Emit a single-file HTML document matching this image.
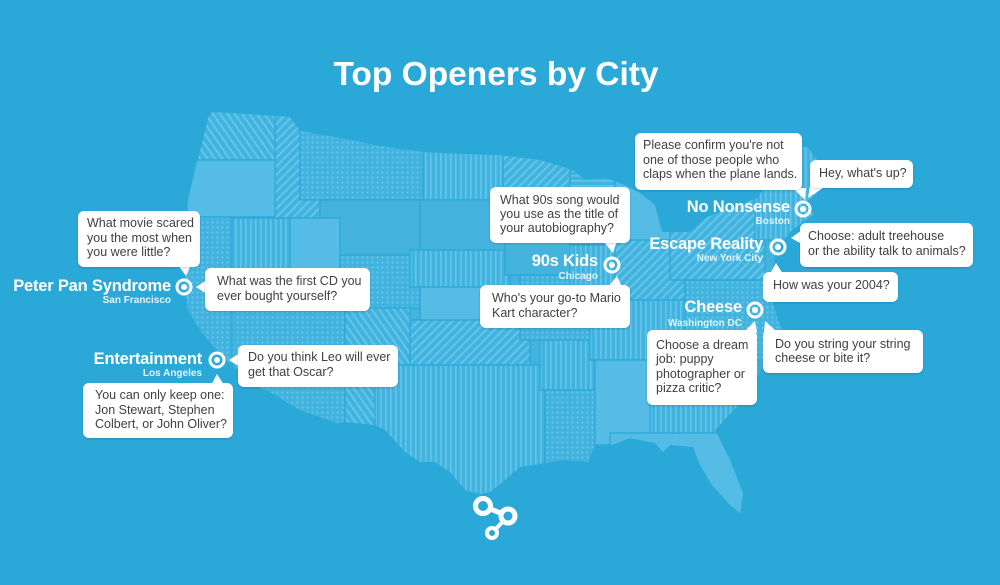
<!DOCTYPE html>
<html><head><meta charset="utf-8">
<style>
html,body{margin:0;padding:0;}
body{width:1000px;height:585px;overflow:hidden;background:#2aa9d9;position:relative;font-family:"Liberation Sans",Arial,sans-serif;}
svg.map{position:absolute;left:0;top:0;}
.title{position:absolute;left:0;width:992px;top:58px;text-align:center;color:#fff;font-weight:bold;font-size:33.5px;line-height:33.5px;white-space:nowrap;}
.b{position:absolute;background:#fff;border-radius:6px;box-shadow:0 1px 2px rgba(0,0,0,0.18);color:#404040;font-size:12.5px;line-height:14.5px;white-space:nowrap;box-sizing:border-box;}
.l{position:absolute;color:#fff;font-weight:bold;font-size:16.5px;line-height:16.5px;white-space:nowrap;text-align:right;letter-spacing:-0.2px;}
.s{position:absolute;color:#e3f4fb;font-weight:bold;font-size:10px;line-height:10px;white-space:nowrap;text-align:right;}
</style></head><body>
<svg class="map" width="1000" height="585" viewBox="0 0 1000 585">
<defs>
<clipPath id="us"><path d="M208,118 L212,112 L228,113 L260,115 L290,117 L300,131 L340,138 L380,146 L423,152 L460,154 L497,155 L540,160 L573,170 L585,180 L605,178 L622,184 L640,193 L655,205 L662,232 L690,232 L705,218 L725,210 L758,198 L772,172 L788,142 L808,148 L826,172 L816,194 L804,204 L814,214 L792,230 L780,244 L775,256 L772,274 L765,290 L772,300 L778,320 L785,335 L770,355 L758,375 L748,395 L715,430 L730,460 L743,493 L740,513 L730,505 L712,485 L700,465 L693,447 L670,445 L663,452 L655,443 L630,438 L612,445 L595,445 L588,462 L565,460 L545,463 L520,467 L505,480 L490,492 L480,494 L465,490 L450,472 L435,462 L420,462 L405,452 L385,430 L375,425 L345,422 L337,423 L300,410 L270,392 L255,385 L240,372 L228,362 L215,348 L200,330 L188,310 L185,290 L186,255 L187,225 L188,200 L195,170 L203,140 Z"/></clipPath>
<pattern id="vs" width="5" height="5" patternUnits="userSpaceOnUse"><rect width="5" height="5" fill="#42b3de"/><rect width="1.6" height="5" fill="#64c5ea"/></pattern>
<pattern id="ds" width="6" height="6" patternUnits="userSpaceOnUse" patternTransform="rotate(45)"><rect width="6" height="6" fill="#42b3de"/><rect width="2" height="6" fill="#64c5ea"/></pattern>
<pattern id="ds2" width="6" height="6" patternUnits="userSpaceOnUse" patternTransform="rotate(-35)"><rect width="6" height="6" fill="#42b3de"/><rect width="2" height="6" fill="#64c5ea"/></pattern>
<pattern id="hs" width="5" height="5" patternUnits="userSpaceOnUse"><rect width="5" height="5" fill="#42b3de"/><rect width="5" height="1.6" fill="#64c5ea"/></pattern>
<pattern id="dt" width="5" height="5" patternUnits="userSpaceOnUse"><rect width="5" height="5" fill="#42b3de"/><circle cx="2.5" cy="2.5" r="1.1" fill="#66c6eb"/></pattern>
</defs>
<g clip-path="url(#us)" stroke="#2aa9d9" stroke-width="1.3">
<rect x="150" y="100" width="700" height="430" fill="#44b4df" stroke="none"/>
<rect x="195" y="105" width="95" height="55" fill="url(#ds2)"/>
<rect x="180" y="160" width="100" height="57" fill="#55bce5"/>
<rect x="180" y="217" width="52" height="185" fill="url(#dt)"/>
<rect x="232" y="218" width="58" height="100" fill="url(#vs)"/>
<rect x="275" y="115" width="45" height="103" fill="url(#ds)"/>
<rect x="300" y="125" width="123" height="75" fill="url(#dt)"/>
<rect x="320" y="200" width="100" height="55" fill="#44b4df"/>
<rect x="290" y="218" width="50" height="88" fill="#55bce5"/>
<rect x="340" y="255" width="80" height="53" fill="url(#dt)"/>
<rect x="232" y="306" width="113" height="120" fill="url(#dt)"/>
<rect x="345" y="308" width="65" height="118" fill="url(#ds2)"/>
<rect x="423" y="145" width="80" height="55" fill="url(#vs)"/>
<rect x="420" y="200" width="85" height="50" fill="#44b4df"/>
<rect x="410" y="250" width="100" height="37" fill="url(#vs)"/>
<rect x="420" y="287" width="100" height="33" fill="#55bce5"/>
<rect x="410" y="320" width="120" height="45" fill="url(#ds)"/>
<rect x="375" y="365" width="170" height="135" fill="url(#vs)"/>
<rect x="503" y="150" width="67" height="80" fill="url(#ds)"/>
<rect x="505" y="230" width="65" height="45" fill="#44b4df"/>
<rect x="520" y="275" width="70" height="65" fill="url(#dt)"/>
<rect x="540" y="340" width="55" height="50" fill="url(#vs)"/>
<rect x="545" y="390" width="55" height="80" fill="url(#dt)"/>
<rect x="570" y="170" width="45" height="75" fill="url(#hs)"/>
<rect x="570" y="245" width="45" height="75" fill="url(#vs)"/>
<rect x="615" y="175" width="55" height="65" fill="#55bce5"/>
<rect x="615" y="240" width="70" height="60" fill="url(#ds)"/>
<rect x="590" y="300" width="110" height="60" fill="url(#vs)"/>
<rect x="595" y="360" width="55" height="85" fill="#55bce5"/>
<rect x="650" y="360" width="110" height="75" fill="url(#vs)"/>
<rect x="610" y="433" width="140" height="90" fill="#55bce5"/>
<rect x="670" y="195" width="95" height="85" fill="url(#ds)"/>
<rect x="755" y="135" width="80" height="105" fill="url(#vs)"/>
<rect x="685" y="280" width="105" height="80" fill="url(#dt)"/>
</g>
<!-- tails -->
<g fill="#fff">
<polygon points="178,265 191,265 186,276"/>
<polygon points="207,280 207,294 196,287"/>
<polygon points="240,353 240,367 229,360"/>
<polygon points="211,385 224,385 217,374"/>
<polygon points="603,241 617,241 613,253"/>
<polygon points="608,287 622,287 617,276"/>
<polygon points="793,188 806,188 805,200"/>
<polygon points="811,180 823,188 808,198"/>
<polygon points="802,230 802,244 791,238"/>
<polygon points="770,274 783,274 776,263"/>
<polygon points="744,332 757,332 755,321"/>
<polygon points="764,332 777,332 765,321"/>
</g>
<!-- target circles -->
<g fill="none" stroke="#fff" stroke-width="3">
<circle cx="184" cy="287" r="7"/><circle cx="217" cy="360" r="7"/><circle cx="612" cy="265" r="7"/>
<circle cx="803" cy="209" r="7"/><circle cx="778" cy="247" r="7"/><circle cx="755" cy="310" r="7"/>
</g>
<g fill="#fff">
<circle cx="184" cy="287" r="3"/><circle cx="217" cy="360" r="3"/><circle cx="612" cy="265" r="3"/>
<circle cx="803" cy="209" r="3"/><circle cx="778" cy="247" r="3"/><circle cx="755" cy="310" r="3"/>
</g>
<!-- logo -->
<g stroke="#fff" fill="none">
<line x1="483" y1="506" x2="508" y2="516" stroke-width="5"/>
<line x1="508" y1="516" x2="492" y2="533" stroke-width="4"/>
<circle cx="483" cy="506" r="7.5" stroke-width="5" fill="#2aa9d9"/>
<circle cx="508" cy="516" r="7" stroke-width="5" fill="#2aa9d9"/>
<circle cx="492" cy="533" r="5" stroke-width="4" fill="#2aa9d9"/>
</g>
</svg>

<div class="title">Top Openers by City</div>

<div class="b" style="left:78px;top:211px;width:122px;height:56px;padding:5px 0 0 9px;">What movie scared<br>you the most when<br>you were little?</div>
<div class="b" style="left:205px;top:268px;width:165px;height:43px;padding:6px 0 0 12px;">What was the first CD you<br>ever bought yourself?</div>
<div class="b" style="left:238px;top:345px;width:160px;height:42px;padding:5px 0 0 10px;">Do you think Leo will ever<br>get that Oscar?</div>
<div class="b" style="left:83px;top:383px;width:150px;height:55px;padding:5px 0 0 12px;">You can only keep one:<br>Jon Stewart, Stephen<br>Colbert, or John Oliver?</div>
<div class="b" style="left:490px;top:187px;width:140px;height:56px;padding:6px 0 0 10px;line-height:14px;">What 90s song would<br>you use as the title of<br>your autobiography?</div>
<div class="b" style="left:480px;top:285px;width:150px;height:43px;padding:6px 0 0 12px;">Who's your go-to Mario<br>Kart character?</div>
<div class="b" style="left:635px;top:133px;width:167px;height:57px;padding:5px 0 0 8px;">Please confirm you're not<br>one of those people who<br>claps when the plane lands.</div>
<div class="b" style="left:810px;top:160px;width:103px;height:28px;padding:6px 0 0 9px;">Hey, what's up?</div>
<div class="b" style="left:800px;top:223px;width:173px;height:44px;padding:6px 0 0 8px;">Choose: adult treehouse<br>or the ability talk to animals?</div>
<div class="b" style="left:763px;top:272px;width:135px;height:30px;padding:6px 0 0 10px;">How was your 2004?</div>
<div class="b" style="left:647px;top:330px;width:110px;height:75px;padding:8px 0 0 9px;line-height:14.3px;">Choose a dream<br>job: puppy<br>photographer or<br>pizza critic?</div>
<div class="b" style="left:763px;top:330px;width:160px;height:43px;padding:7px 0 0 12px;line-height:14px;">Do you string your string<br>cheese or bite it?</div>

<div class="l" style="right:829px;top:278px;">Peter Pan Syndrome</div>
<div class="s" style="right:829px;top:296px;">San Francisco</div>
<div class="l" style="right:798px;top:351px;">Entertainment</div>
<div class="s" style="right:798px;top:369px;">Los Angeles</div>
<div class="l" style="right:402px;top:253px;">90s Kids</div>
<div class="s" style="right:402px;top:272px;">Chicago</div>
<div class="l" style="right:210px;top:199px;">No Nonsense</div>
<div class="s" style="right:210px;top:217px;">Boston</div>
<div class="l" style="right:237px;top:236px;">Escape Reality</div>
<div class="s" style="right:237px;top:254px;">New York City</div>
<div class="l" style="right:258px;top:299px;">Cheese</div>
<div class="s" style="right:258px;top:319px;">Washington DC</div>
</body></html>
